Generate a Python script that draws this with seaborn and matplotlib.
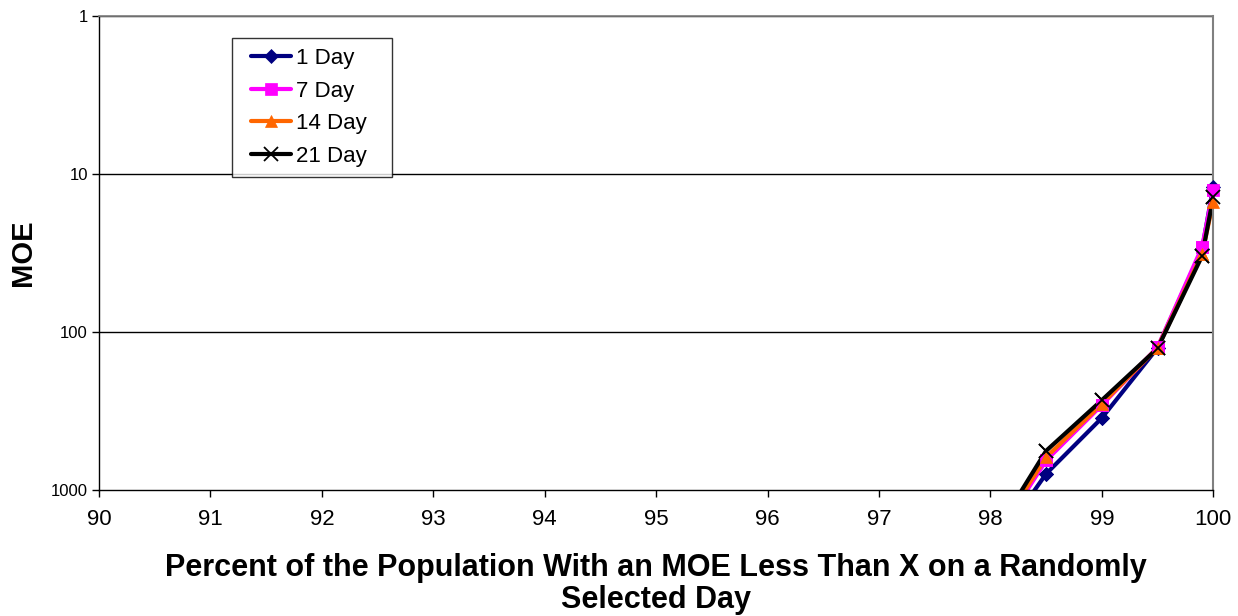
import numpy as np
import pandas as pd
import matplotlib
matplotlib.use("Agg")
import matplotlib.pyplot as plt
from matplotlib.lines import Line2D
from matplotlib.legend_handler import HandlerLine2D
import seaborn as sns

# Percentile of population (x) and margin of error (y) per averaging window
percent = [98.0, 98.5, 99.0, 99.5, 99.9, 100.0]
moe_1day = [2500, 790, 350, 126, 30, 12]
moe_7day = [2300, 650, 290, 125, 29, 12.6]
moe_14day = [2200, 620, 285, 126, 32, 15]
moe_21day = [2100, 565, 270, 127, 33, 14]
series_names = ["1 Day", "7 Day", "14 Day", "21 Day"]
x_ticks = [90, 91, 92, 93, 94, 95, 96, 97, 98, 99, 100]
y_ticks = [1, 10, 100, 1000]

df = pd.concat([
    pd.DataFrame({"percent": percent, "moe": vals, "series": name})
    for name, vals in zip(series_names, [moe_1day, moe_7day, moe_14day, moe_21day])
], ignore_index=True)

sns.set_theme(style="white")
plt.rcParams["font.family"] = ["Liberation Sans", "DejaVu Sans"]
plt.rcParams.update({"text.color": "black", "axes.labelcolor": "black",
                     "xtick.color": "black", "ytick.color": "black"})

fig = plt.figure(figsize=(12.38, 6.16), dpi=100)
ax = fig.add_axes([0.080, 0.2045, 0.900, 0.7695])

palette = {"1 Day": "#000080", "7 Day": "#FF00FF", "14 Day": "#FF6600", "21 Day": "#000000"}
markers = {"1 Day": "D", "7 Day": "s", "14 Day": "^", "21 Day": "x"}
sizes = {"1 Day": 7, "7 Day": 9, "14 Day": 9, "21 Day": 10}

for name in series_names:
    sub = df[df["series"] == name]
    mew = 1.3 if name == "21 Day" else 0.5
    # connecting line (clipped at the plot area)
    sns.lineplot(data=sub, x="percent", y="moe", color=palette[name],
                 marker=markers[name], markersize=sizes[name],
                 markeredgecolor=palette[name], markeredgewidth=mew,
                 linewidth=3, label=name, ax=ax)
    # markers inside the value range drawn unclipped so edge points show fully
    inside = sub[sub["moe"] <= 1000]
    ax.plot(inside["percent"], inside["moe"], linestyle="none",
            marker=markers[name], markersize=sizes[name], color=palette[name],
            markeredgecolor=palette[name], markeredgewidth=mew, clip_on=False,
            zorder=3)

ax.set_yscale("log")
ax.set_ylim(1000, 1)
ax.set_xlim(90, 100)
ax.set_xticks(x_ticks)
ax.set_xticklabels([str(t) for t in x_ticks], fontsize=16)
ax.set_yticks(y_ticks)
ax.set_yticklabels([str(t) for t in y_ticks], fontsize=12)
ax.minorticks_off()
ax.tick_params(axis="both", direction="out", length=5, width=1, color="black",
               labelcolor="black", bottom=True, left=True)
ax.tick_params(axis="x", pad=9)
ax.tick_params(axis="y", pad=3)

for y in [1, 10, 100]:
    ax.axhline(y, color="black", linewidth=1, zorder=0)

for side in ["left", "bottom"]:
    ax.spines[side].set_color("black")
    ax.spines[side].set_linewidth(1)
ax.spines["right"].set_color("#808080")
ax.spines["right"].set_linewidth(1.5)
ax.spines["top"].set_color("#808080")

ax.set_xlabel("Percent of the Population With an MOE Less Than X on a Randomly\nSelected Day",
              fontsize=22, fontweight="bold", labelpad=16, linespacing=1.12, color="black")
ax.set_ylabel("MOE", fontsize=21, fontweight="bold", labelpad=10, color="black")

# Legend box: fixed width, handles inset from the left edge
leg_left, leg_top, leg_w = 232 / 1238, 1 - 38 / 616, 160 / 1238
leg = ax.legend(loc="upper left", bbox_to_anchor=(leg_left, leg_top - 0.2, leg_w, 0.2),
                bbox_transform=fig.transFigure, mode="expand", frameon=True, fancybox=False,
                fontsize=16, handlelength=2.2, handletextpad=0.25, borderpad=0.45,
                labelspacing=0.52, borderaxespad=0,
                handler_map={Line2D: HandlerLine2D(xpad=0.4)})
leg.get_frame().set_edgecolor("black")
leg.get_frame().set_linewidth(1)
for t in leg.get_texts():
    t.set_color("black")

fig.savefig("out.png", dpi=100)
